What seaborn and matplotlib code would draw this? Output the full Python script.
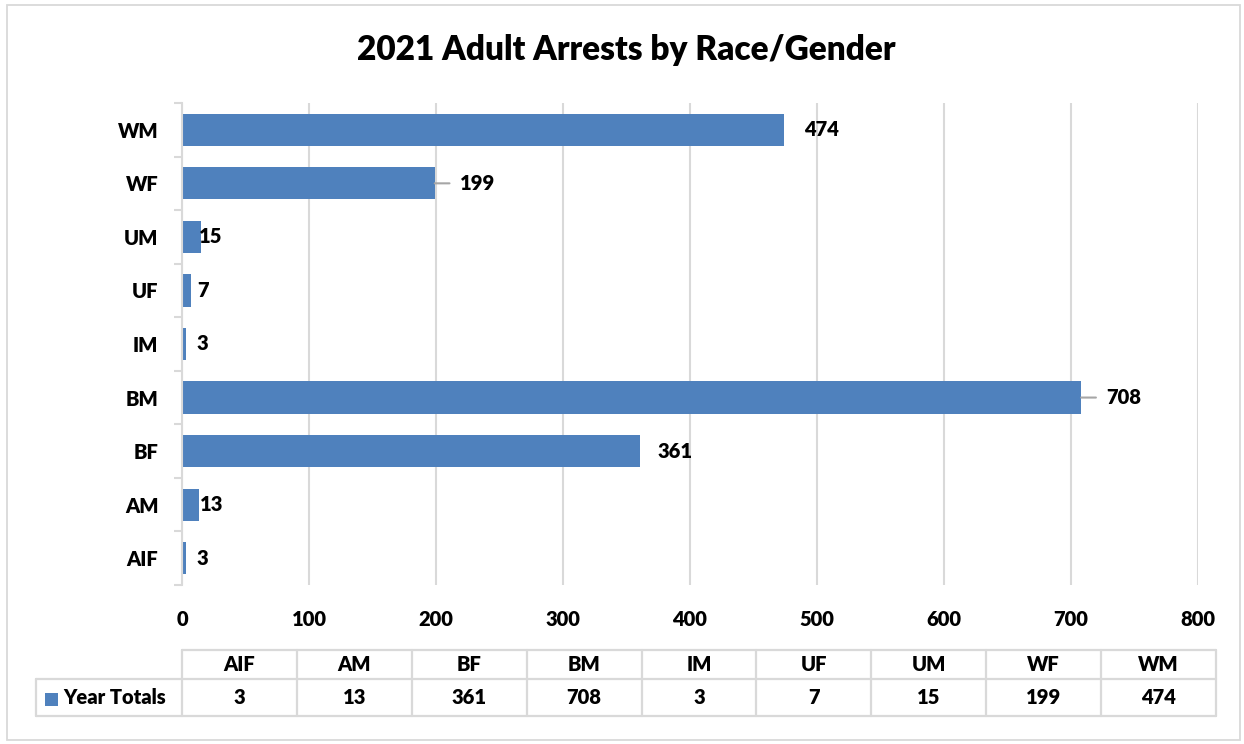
import matplotlib
matplotlib.use("Agg")
import matplotlib.pyplot as plt
from matplotlib import font_manager
from matplotlib.patches import Rectangle
from matplotlib.lines import Line2D
import seaborn as sns
import pandas as pd

# Arrest counts per race/gender group
categories = ["AIF", "AM", "BF", "BM", "IM", "UF", "UM", "WF", "WM"]
values = [3, 13, 361, 708, 3, 7, 15, 199, 474]
x_ticks = [0, 100, 200, 300, 400, 500, 600, 700, 800]
series_name = "Year Totals"
title = "2021 Adult Arrests by Race/Gender"

BAR = "#4f81bd"
GRID = "#d9d9d9"


def _w(f):
    w = f.weight
    if isinstance(w, str):
        w = font_manager.weight_dict.get(w, 400)
    return w


def heavy_file():
    """Path of a heavy (bold to extra-bold) face, preferring humanist sans families."""
    for fam in ["Lato", "Open Sans", "Noto Sans", "Liberation Sans", "DejaVu Sans"]:
        faces = [f for f in font_manager.fontManager.ttflist
                 if f.name == fam and f.style == "normal" and 700 <= _w(f) <= 800]
        if faces:
            faces.sort(key=lambda f: abs(_w(f) - 800))
            return faces[0].fname
    return None


HEAVY = heavy_file()


def fp(size):
    if HEAVY:
        return font_manager.FontProperties(fname=HEAVY, size=size)
    return font_manager.FontProperties(family="DejaVu Sans", weight="bold", size=size)


sns.set_theme(style="white")
plt.rcParams["font.family"] = ["Lato", "DejaVu Sans"]

W, H = 1244, 744
fig = plt.figure(figsize=(W / 100, H / 100), dpi=100)


def fx(px):
    return px / W


def fy(py):
    return 1 - py / H


# outer chart frame
fig.patches.append(Rectangle((fx(7), fy(740)), 1233 / W, 735 / H,
                             transform=fig.transFigure, fill=False,
                             edgecolor=GRID, linewidth=1.3))

ax_l, ax_r, ax_t, ax_b = 182, 1198, 103, 585
ax = fig.add_axes([fx(ax_l), fy(ax_b), (ax_r - ax_l) / W, (ax_b - ax_t) / H])

df = pd.DataFrame({"group": categories, "count": values})
order = categories[::-1]  # top of chart = last group
sns.barplot(data=df, x="count", y="group", order=order, orient="h",
            color=BAR, saturation=1, width=0.6, ax=ax, edgecolor="none")

FS = 14.5
ax.set_xlim(0, 800)
ax.set_ylim(len(order) - 0.5, -0.5)
ax.set_xticks(x_ticks)
ax.set_xticklabels([str(t) for t in x_ticks])
ax.set_xlabel("")
ax.set_ylabel("")
ax.xaxis.grid(True, color=GRID, linewidth=1.5)
ax.set_axisbelow(True)
for s in ["top", "right", "bottom"]:
    ax.spines[s].set_visible(False)
ax.spines["left"].set_color(GRID)
ax.spines["left"].set_linewidth(1.5)
ax.tick_params(axis="x", length=0, pad=18)
ax.tick_params(axis="y", which="major", length=0, pad=17)
ax.set_yticks([i - 0.5 for i in range(len(order) + 1)], minor=True)
ax.tick_params(axis="y", which="minor", length=6, width=1.5, color=GRID,
               direction="out", left=True)
for lab in ax.get_xticklabels() + ax.get_yticklabels():
    lab.set_fontproperties(fp(FS))
    lab.set_color("black")

# value labels (horizontal pixel offsets from the bar end)
label_offset = {"WM": 20, "WF": 25, "UM": -2, "UF": 6, "IM": 11,
                "BM": 25, "BF": 17, "AM": 1, "AIF": 11}
leader = {"WF", "BM"}
for i, g in enumerate(order):
    v = values[categories.index(g)]
    kw = {}
    if g in leader:
        kw["arrowprops"] = dict(arrowstyle="-", color="#a6a6a6", lw=1.5,
                                shrinkA=5, shrinkB=0)
    ax.annotate(str(v), xy=(v, i), xytext=(label_offset[g], 0),
                textcoords="offset pixels", ha="left", va="center",
                fontproperties=fp(FS), color="black",
                annotation_clip=False, **kw)

# title
fig.text(fx(626), fy(50), title, ha="center", va="center",
         fontproperties=fp(24), color="black")

# data table below the chart
t_left, t_grid, t_right = 36, 182, 1216
r_top, r_mid, r_bot = 650, 679, 716
col_w = (t_right - t_grid) / len(categories)
col_edges = [t_grid + k * col_w for k in range(len(categories) + 1)]


def hline(x0, x1, y):
    fig.add_artist(Line2D([fx(x0), fx(x1)], [fy(y), fy(y)], color=GRID,
                          linewidth=1.6, transform=fig.transFigure))


def vline(x, y0, y1):
    fig.add_artist(Line2D([fx(x), fx(x)], [fy(y0), fy(y1)], color=GRID,
                          linewidth=1.6, transform=fig.transFigure))


hline(t_grid, t_right, r_top)
hline(t_left, t_right, r_mid)
hline(t_left, t_right, r_bot)
vline(t_left, r_mid, r_bot)
for xe in col_edges:
    vline(xe, r_top, r_bot)

for k, (g, v) in enumerate(zip(categories, values)):
    xc = fx(t_grid + (k + 0.5) * col_w)
    fig.text(xc, fy((r_top + r_mid) / 2), g, ha="center", va="center",
             fontproperties=fp(FS), color="black")
    fig.text(xc, fy((r_mid + r_bot) / 2), str(v), ha="center", va="center",
             fontproperties=fp(FS), color="black")

# legend key and series name
fig.patches.append(Rectangle((fx(45), fy(706)), 13 / W, 13 / H,
                             transform=fig.transFigure, facecolor=BAR,
                             edgecolor="none"))
fig.text(fx(63), fy((r_mid + r_bot) / 2), series_name, ha="left",
         va="center", fontproperties=fp(FS), color="black")

fig.savefig("out.png", dpi=100)
